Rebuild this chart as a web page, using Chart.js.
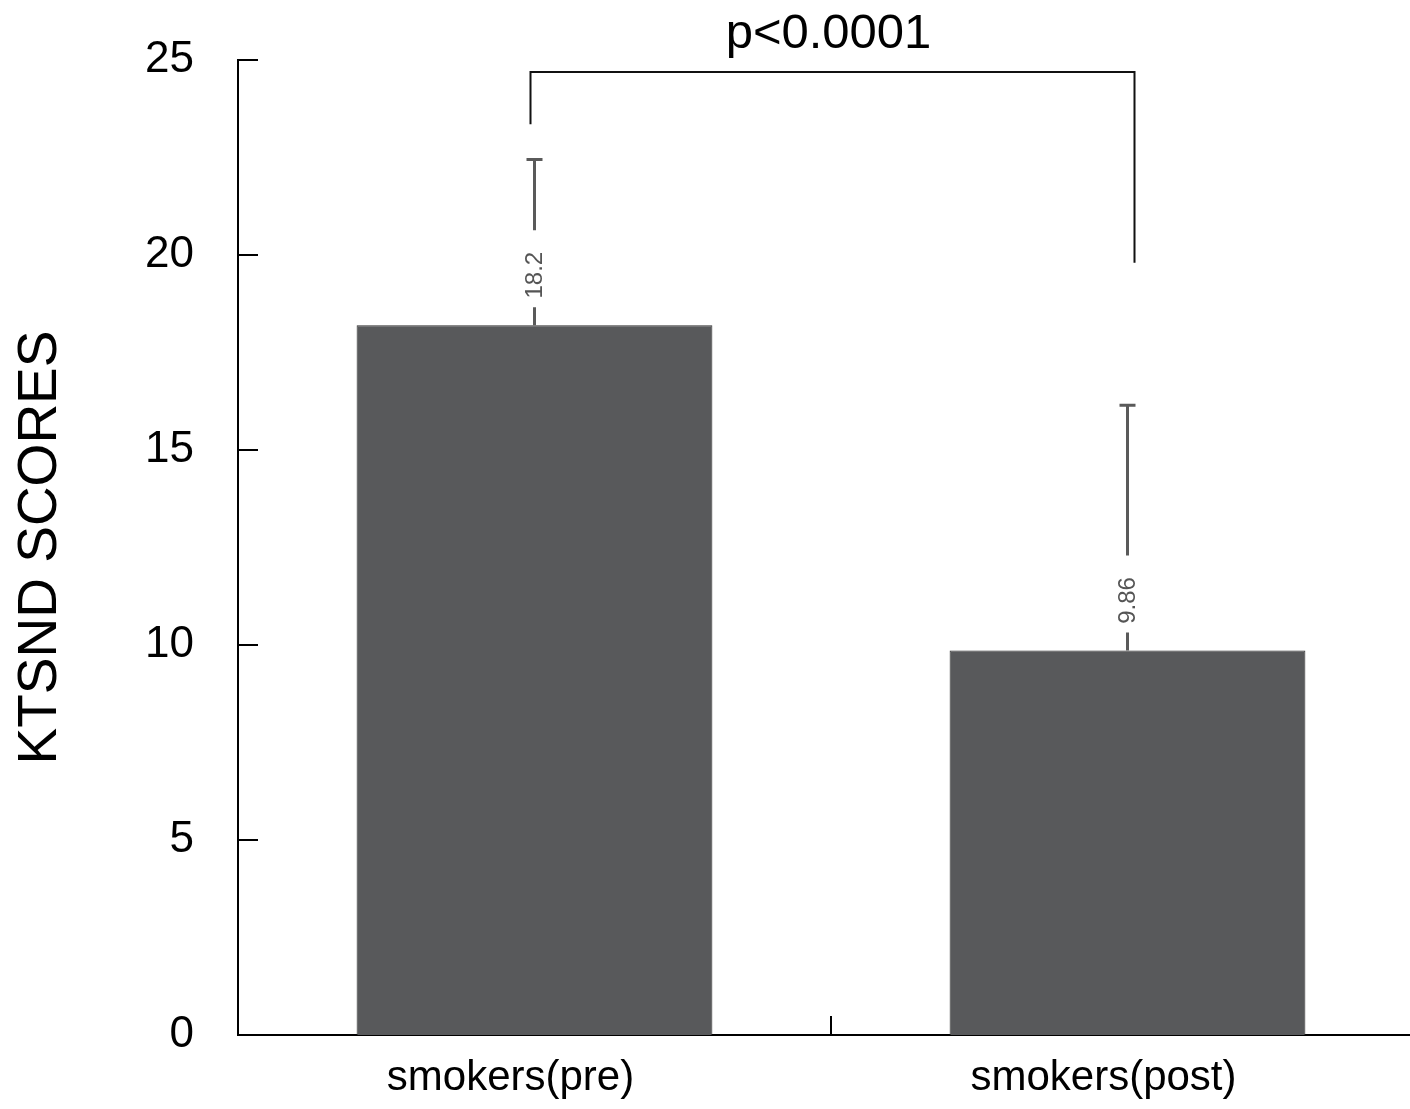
<!DOCTYPE html>
<html><head><meta charset="utf-8">
<script src="https://cdn.jsdelivr.net/npm/chart.js@4"></script>
<style>html,body{margin:0;padding:0;overflow:hidden;background:#fff}</style>
</head><body>
<canvas id="c" width="1424" height="1109"></canvas>
<script>
const categories = ['smokers(pre)', 'smokers(post)'];
const means = [18.2, 9.86];
const sds = [4.25, 6.29];
const valueLabels = ['18.2', '9.86'];
const yTickValues = [0, 5, 10, 15, 20, 25];
const pText = 'p<0.0001';
const bracketLevel = 24.7;
const bracketLegEnds = [23.35, 19.8];

const FONT = "'Liberation Sans', Arial, sans-serif";
Chart.defaults.font.family = FONT;

const overlay = {
  id: 'overlay',
  afterDatasetsDraw(chart) {
    const ctx = chart.ctx;
    const x = chart.scales.x, y = chart.scales.y;
    const area = chart.chartArea;
    ctx.save();
    ctx.strokeStyle = '#000'; ctx.lineWidth = 2;
    yTickValues.forEach(v => {
      const py = Math.round(y.getPixelForValue(v));
      ctx.beginPath(); ctx.moveTo(area.left, py); ctx.lineTo(area.left + 20, py); ctx.stroke();
    });
    const sepX = Math.round(x.getPixelForValue(0.5));
    ctx.beginPath(); ctx.moveTo(sepX, area.bottom); ctx.lineTo(sepX, area.bottom - 19); ctx.stroke();

    const meta = chart.getDatasetMeta(0);
    meta.data.forEach((bar, i) => {
      const cx = bar.x;
      const top = y.getPixelForValue(means[i]);
      const capY = y.getPixelForValue(means[i] + sds[i]);
      ctx.strokeStyle = '#5a5a5a'; ctx.lineWidth = 3;
      ctx.beginPath();
      ctx.moveTo(cx, top); ctx.lineTo(cx, top - 18);
      ctx.moveTo(cx, top - 95); ctx.lineTo(cx, capY);
      ctx.moveTo(cx - 8, capY); ctx.lineTo(cx + 8, capY);
      ctx.stroke();
      ctx.save();
      ctx.translate(cx + 1, top - 50);
      ctx.rotate(-Math.PI / 2);
      ctx.fillStyle = '#555';
      ctx.font = '24px ' + FONT;
      ctx.textAlign = 'center'; ctx.textBaseline = 'middle';
      ctx.fillText(valueLabels[i], 0, 0);
      ctx.restore();
    });

    const x1 = meta.data[0].x - 4, x2 = meta.data[1].x + 7;
    const by = Math.round(y.getPixelForValue(bracketLevel));
    ctx.strokeStyle = '#111'; ctx.lineWidth = 2;
    ctx.beginPath();
    ctx.moveTo(x1, y.getPixelForValue(bracketLegEnds[0]));
    ctx.lineTo(x1, by); ctx.lineTo(x2, by);
    ctx.lineTo(x2, y.getPixelForValue(bracketLegEnds[1]));
    ctx.stroke();
    ctx.fillStyle = '#000';
    ctx.font = '49px ' + FONT;
    ctx.textAlign = 'center'; ctx.textBaseline = 'alphabetic';
    ctx.fillText(pText, (x1 + x2) / 2 - 4, by - 24);
    ctx.restore();
  }
};

new Chart(document.getElementById('c'), {
  type: 'bar',
  data: {
    labels: categories,
    datasets: [{
      data: means,
      backgroundColor: '#58595b',
      borderColor: '#2e2e2e',
      borderWidth: 1,
      borderSkipped: 'bottom',
      barPercentage: 0.6,
      categoryPercentage: 1.0
    }]
  },
  options: {
    responsive: false,
    animation: false,
    layout: { padding: { top: 60, left: 0, right: 0, bottom: 0 } },
    plugins: { legend: { display: false }, tooltip: { enabled: false } },
    scales: {
      x: {
        grid: { display: false, drawTicks: false },
        border: { display: true, color: '#000', width: 2 },
        ticks: { color: '#000', font: { size: 42 }, padding: 18, labelOffset: -24, maxRotation: 0 },
        afterFit(s) { s.height = 74; s.paddingLeft = 0; s.paddingRight = 0; }
      },
      y: {
        min: 0, max: 25,
        afterBuildTicks(s) { s.ticks = yTickValues.map(v => ({ value: v })); },
        grid: { display: false, drawTicks: false },
        border: { display: true, color: '#000', width: 2 },
        ticks: { color: '#000', font: { size: 44 }, padding: 44 },
        title: { display: true, text: 'KTSND SCORES', color: '#000', font: { size: 55 }, padding: { top: 8, bottom: 0 } },
        afterFit(s) { s.width = 238; s.paddingTop = 0; s.paddingBottom = 0; }
      }
    }
  },
  plugins: [overlay]
});
</script>
</body></html>
